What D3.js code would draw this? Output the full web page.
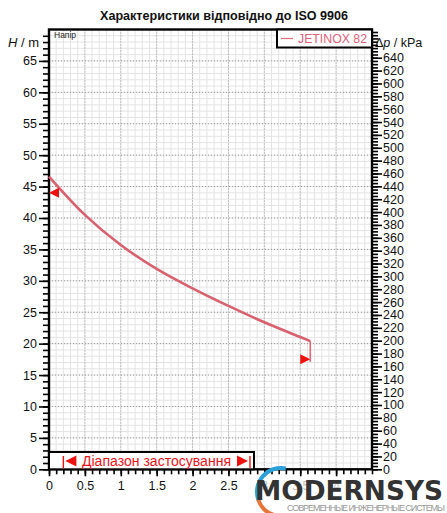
<!DOCTYPE html>
<html><head><meta charset="utf-8">
<script src="https://cdn.jsdelivr.net/npm/d3@7"></script>
<style>html,body{margin:0;padding:0;background:#fff;}svg{display:block;font-family:Arial,"Liberation Sans",sans-serif;}</style>
</head><body>
<script>
// ---- data ----
const flowQ = [0, 0.5, 1, 1.5, 2, 2.5, 3, 3.5, 3.64];
const headH = [46.6, 40.5, 35.7, 31.9, 28.8, 26.0, 23.4, 21.05, 20.4];
const dropH = [20.4, 17.1];
const xTickLabels = [0, 0.5, 1, 1.5, 2, 2.5, 3, 3.5, 4];
const leftTickLabels = [0,5,10,15,20,25,30,35,40,45,50,55,60,65];
const rightTickLabels = d3.range(0, 641, 20);
const opRange = [0.2, 2.8];
const leftMarkerH = 44;
const rightMarkerH = 17.5;
const seriesName = "JETINOX 82";
const kPaPerM = 9.77;

const W = 447, H = 513;
const L = 49, R = 372, T = 29.5, B = 469.3;
const svg = d3.select("body").append("svg").attr("width", W).attr("height", H);

const x = d3.scaleLinear().domain([0, 4.5]).range([L, R]);
const y = d3.scaleLinear().domain([0, 70]).range([B, T]);
const yR = d3.scaleLinear().domain([0, 70 * kPaPerM]).range([B, T]);

// grid minor
const g = svg.append("g");
g.selectAll(".vx").data(d3.range(0.1, 4.5, 0.1)).join("line")
  .attr("x1", d => x(d)).attr("x2", d => x(d)).attr("y1", T).attr("y2", B)
  .attr("stroke", "#e4e4e4").attr("stroke-width", 1);
g.selectAll(".hy").data(d3.range(1, 70, 1)).join("line")
  .attr("y1", d => y(d)).attr("y2", d => y(d)).attr("x1", L).attr("x2", R)
  .attr("stroke", "#e4e4e4").attr("stroke-width", 1);
// grid major dotted
g.selectAll(".vX").data(d3.range(0.5, 4.5, 0.5)).join("line")
  .attr("x1", d => x(d)).attr("x2", d => x(d)).attr("y1", T).attr("y2", B)
  .attr("stroke", "#9a9a9a").attr("stroke-width", 1).attr("stroke-dasharray", "1,2");
g.selectAll(".hY").data(d3.range(5, 70, 5)).join("line")
  .attr("y1", d => y(d)).attr("y2", d => y(d)).attr("x1", L).attr("x2", R)
  .attr("stroke", "#9a9a9a").attr("stroke-width", 1).attr("stroke-dasharray", "1,2");

function styleAxis(sel, fs) {
  sel.select(".domain").remove();
  sel.selectAll(".tick line").attr("stroke", "#000").attr("stroke-width", 1.6);
  sel.selectAll(".tick text").attr("fill", "#111").attr("font-size", fs).attr("font-family", "Arial, 'Liberation Sans', sans-serif");
}
svg.append("g").attr("transform", `translate(${L},0)`)
  .call(d3.axisLeft(y).tickValues(d3.range(0, 70, 1)).tickSize(6).tickFormat(""))
  .call(s => styleAxis(s, 12));
svg.append("g").attr("transform", `translate(${L},0)`)
  .call(d3.axisLeft(y).tickValues(leftTickLabels).tickSize(10).tickPadding(2))
  .call(s => styleAxis(s, 12.5));
svg.append("g").attr("transform", `translate(${R},0)`)
  .call(d3.axisRight(yR).tickValues(d3.range(0, 684, 5)).tickSize(6).tickFormat(""))
  .call(s => styleAxis(s, 12));
svg.append("g").attr("transform", `translate(${R},0)`)
  .call(d3.axisRight(yR).tickValues(rightTickLabels).tickSize(10).tickPadding(1))
  .call(s => styleAxis(s, 12.5));
svg.append("g").attr("transform", `translate(0,${B})`)
  .call(d3.axisBottom(x).tickValues(d3.range(0, 4.51, 0.1)).tickSize(5).tickFormat(""))
  .call(s => styleAxis(s, 12));
const xAx = svg.append("g").attr("transform", `translate(0,${B})`)
  .call(d3.axisBottom(x).tickValues(xTickLabels).tickSize(7).tickPadding(5).tickFormat(d => d))
  .call(s => styleAxis(s, 12.5));
xAx.selectAll(".tick text").filter(d => d >= 3).attr("fill", "#777");

// frame
svg.append("rect").attr("x", L).attr("y", T).attr("width", R - L).attr("height", B - T)
  .attr("fill", "none").attr("stroke", "#000").attr("stroke-width", 2.4);

// curve
const line = d3.line().x(d => x(d[0])).y(d => y(d[1])).curve(d3.curveCatmullRom.alpha(0.5));
svg.append("path").datum(flowQ.map((q, i) => [q, headH[i]]))
  .attr("d", line).attr("fill", "none").attr("stroke", "#d9606f").attr("stroke-width", 2.6);
const qEnd = flowQ[flowQ.length - 1];
svg.append("line").attr("x1", x(qEnd)).attr("x2", x(qEnd)).attr("y1", y(dropH[0])).attr("y2", y(dropH[1]))
  .attr("stroke", "#e06a78").attr("stroke-width", 1.6);

// markers
const red = "#ee1111";
svg.append("path").attr("d", `M${L},${y(leftMarkerH)} L${L + 10},${y(leftMarkerH) - 5} L${L + 10},${y(leftMarkerH) + 5}Z`).attr("fill", red);
svg.append("path").attr("d", `M${x(qEnd)},${y(rightMarkerH)} L${x(qEnd) - 10},${y(rightMarkerH) - 5} L${x(qEnd) - 10},${y(rightMarkerH) + 5}Z`).attr("fill", red);

// labels
svg.append("text").attr("x", 224).attr("y", 20).attr("text-anchor", "middle")
  .attr("font-size", 12).attr("font-weight", "bold").attr("fill", "#111")
  .attr("textLength", 248).attr("lengthAdjust", "spacingAndGlyphs")
  .text("Характеристики відповідно до ISO 9906");
const hl = svg.append("text").attr("x", 8).attr("y", 47).attr("font-size", 13).attr("fill", "#111");
hl.append("tspan").attr("font-style", "italic").text("H");
hl.append("tspan").text(" / m");
const pl = svg.append("text").attr("x", 375).attr("y", 47).attr("font-size", 12.5).attr("fill", "#111");
pl.append("tspan").text("Δ");
pl.append("tspan").attr("font-style", "italic").text("p");
pl.append("tspan").text(" / kPa");
svg.append("text").attr("x", 54).attr("y", 38).attr("font-size", 8.5).attr("fill", "#222").text("Напір");

// legend
svg.append("rect").attr("x", 277).attr("y", T).attr("width", R - 277).attr("height", 18)
  .attr("fill", "#fff").attr("stroke", "#000").attr("stroke-width", 2);
svg.append("line").attr("x1", 281).attr("x2", 293).attr("y1", 38.5).attr("y2", 38.5)
  .attr("stroke", "#e06a78").attr("stroke-width", 1.2);
svg.append("text").attr("x", 298).attr("y", 43).attr("font-size", 12.5).attr("fill", "#e0607a")
  .attr("textLength", 69).attr("lengthAdjust", "spacingAndGlyphs").text(seriesName);

// operating range box
const rb = svg.append("g");
rb.append("rect").attr("x", L).attr("y", 452).attr("width", 254 - L).attr("height", B - 452)
  .attr("fill", "#fff").attr("stroke", "#000").attr("stroke-width", 2);
const x0 = x(opRange[0]), x1 = x(opRange[1]);
rb.append("line").attr("x1", x0).attr("x2", x0).attr("y1", 456).attr("y2", B - 1).attr("stroke", red).attr("stroke-width", 1.4);
rb.append("line").attr("x1", x1).attr("x2", x1).attr("y1", 456).attr("y2", B - 1).attr("stroke", red).attr("stroke-width", 1.4);
rb.append("path").attr("d", `M${x0 + 2},461 L${x0 + 13},455.5 L${x0 + 13},466.5Z`).attr("fill", red);
rb.append("path").attr("d", `M${x1 - 2},461 L${x1 - 13},455.5 L${x1 - 13},466.5Z`).attr("fill", red);
rb.append("text").attr("x", 82).attr("y", 466).attr("font-size", 14).attr("fill", "#e8141c")
  .attr("textLength", 149).attr("lengthAdjust", "spacingAndGlyphs").text("Діапазон застосування");

// watermark logo
const lg = svg.append("g");
lg.append("rect").attr("x", 250).attr("y", 477).attr("width", 197).attr("height", 36).attr("fill", "#fff").attr("opacity", 0.55);
const arc = d3.arc().innerRadius(22).outerRadius(26);
lg.append("path").attr("transform", "translate(281,492)")
  .attr("d", arc({startAngle: -1.9, endAngle: 0.2})).attr("fill", "#2a9fd8");
lg.append("path").attr("transform", "translate(281,492)")
  .attr("d", arc({startAngle: 3.4, endAngle: 4.4})).attr("fill", "#e8743a");
lg.append("text").attr("x", 255).attr("y", 500).attr("font-size", 27).attr("font-weight", "bold")
  .attr("fill", "#333").attr("textLength", 188).attr("lengthAdjust", "spacingAndGlyphs")
  .attr("font-family", "'DejaVu Sans', Arial, sans-serif").text("MODERNSYS");
lg.append("text").attr("x", 287).attr("y", 511).attr("font-size", 9).attr("fill", "#999")
  .attr("textLength", 158).attr("lengthAdjust", "spacing").text("СОВРЕМЕННЫЕ ИНЖЕНЕРНЫЕ СИСТЕМЫ");
</script>
</body></html>
